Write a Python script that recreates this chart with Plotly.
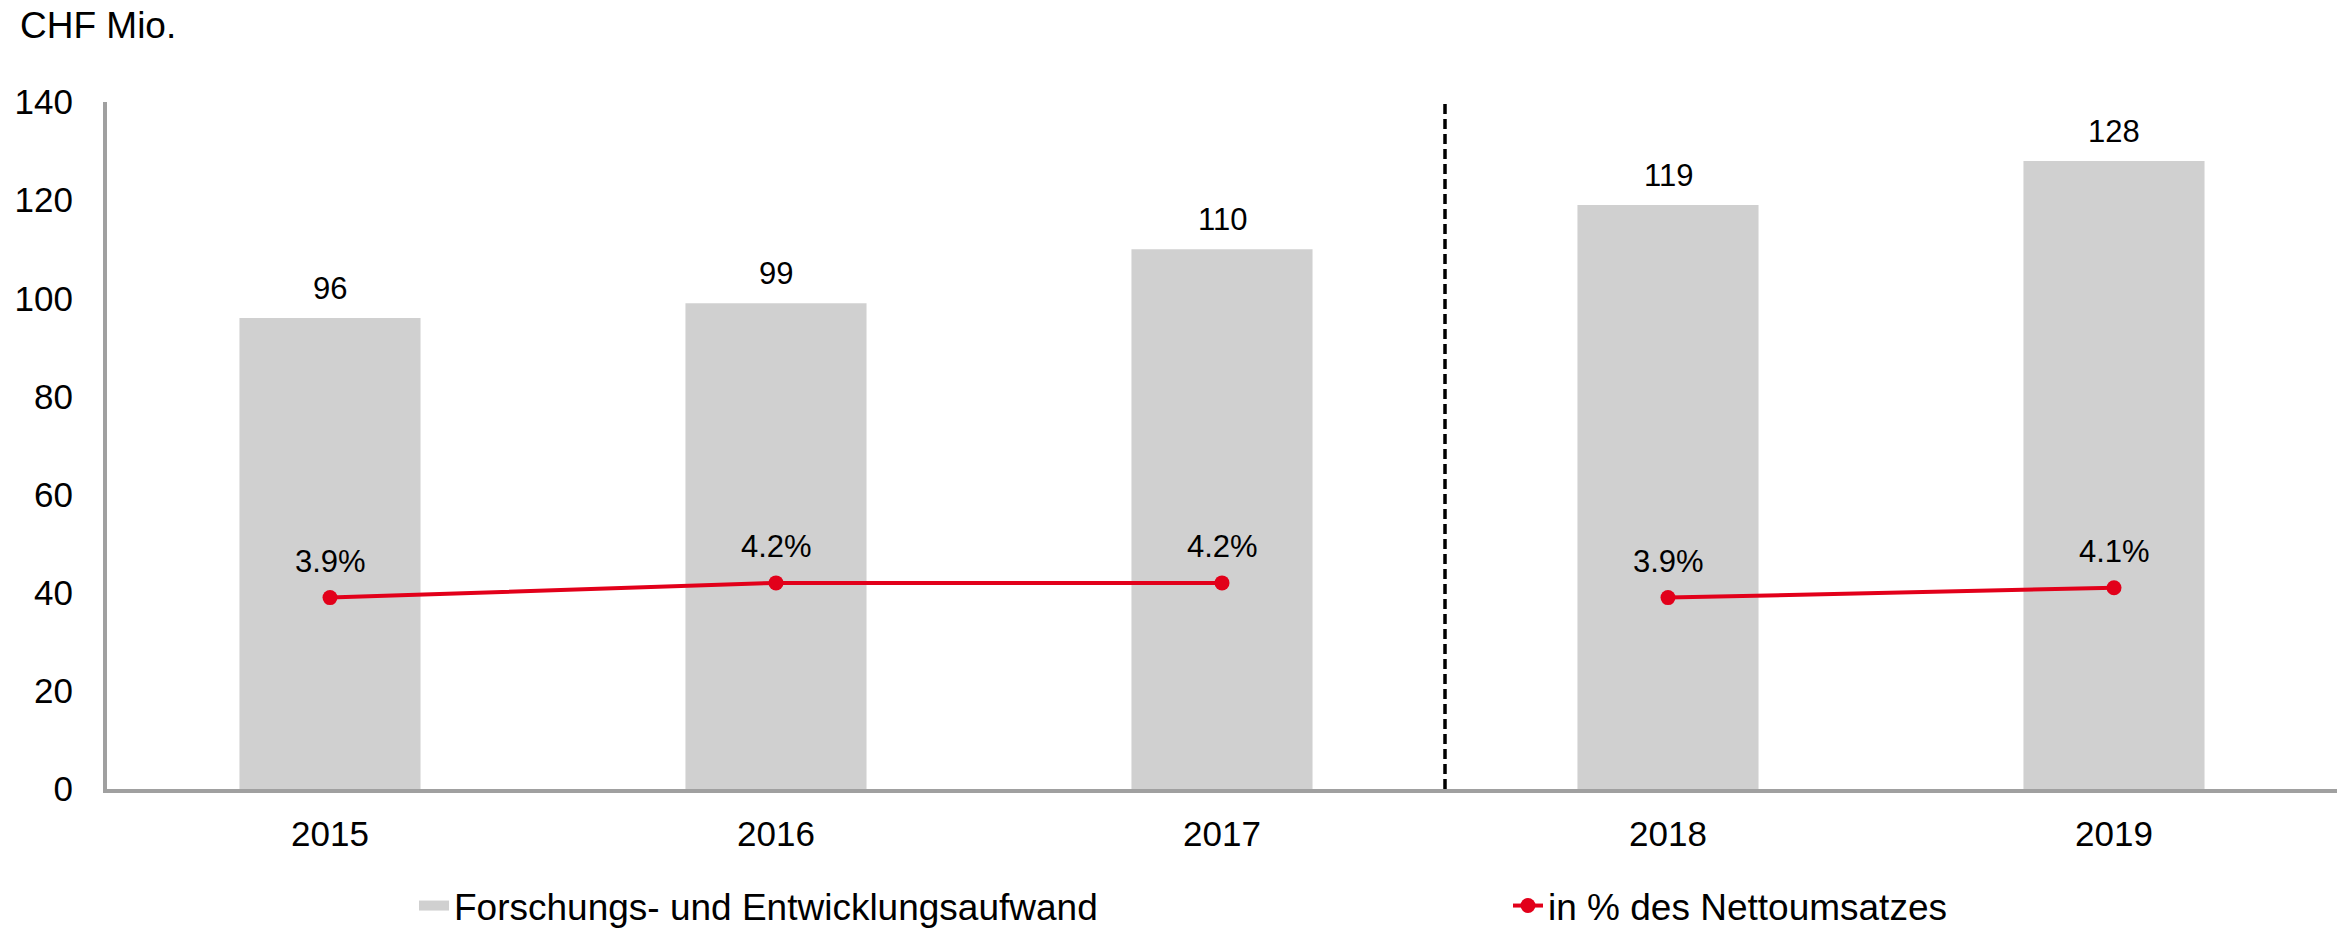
import plotly.graph_objects as go

years = ["2015", "2016", "2017", "2018", "2019"]
rd_expense = [96, 99, 110, 119, 128]
pct_sales = [3.9, 4.2, 4.2, 3.9, 4.1]
bar_name = "Forschungs- und Entwicklungsaufwand"
line_name = "in % des Nettoumsatzes"
y_ticks = [0, 20, 40, 60, 80, 100, 120, 140]

FONT = "Liberation Sans, Arial, sans-serif"
RED = "#E2001A"
GREY_BAR = "#D0D0D0"
AXIS = "#A0A0A0"

OFF = 8  # page body margin
W, H = 2351 - OFF, 928 - OFF
L = 107 - OFF
T = 102 - OFF
R = W - (2337 - OFF)
B = H - (789 - OFF)
PW, PH = W - L - R, H - T - B

pos = list(range(len(years)))

fig = go.Figure()
fig.add_trace(go.Bar(
    x=pos, y=rd_expense, name=bar_name, marker=dict(color=GREY_BAR, line=dict(width=0)),
    width=0.406, showlegend=False,
))
# legend entry for bars (wide grey patch like the reference)
fig.add_trace(go.Scatter(
    x=[None], y=[None], name=bar_name, mode="lines",
    line=dict(color=GREY_BAR, width=16), legend="legend",
))
# line broken between 2017 and 2018 (two segments)
seg1 = slice(0, 3)
seg2 = slice(3, 5)
fig.add_trace(go.Scatter(
    x=pos[seg1], y=pct_sales[seg1], name=line_name, mode="lines+markers",
    line=dict(color=RED, width=4), marker=dict(color=RED, size=15), yaxis="y2",
    legendgroup="pct", legend="legend2",
))
fig.add_trace(go.Scatter(
    x=pos[seg2], y=pct_sales[seg2], name=line_name, mode="lines+markers",
    line=dict(color=RED, width=4), marker=dict(color=RED, size=15), yaxis="y2",
    legendgroup="pct", showlegend=False, legend="legend2",
))

annotations = []
for xp, v in zip(pos, rd_expense):
    annotations.append(dict(x=xp, y=v, xref="x", yref="y", text=str(v), showarrow=False,
                            yanchor="bottom", yshift=10, font=dict(size=31, color="black", family=FONT)))
for xp, p in zip(pos, pct_sales):
    annotations.append(dict(x=xp, y=p, xref="x", yref="y2", text=f"{p:.1f}%", showarrow=False,
                            yanchor="bottom", yshift=17, font=dict(size=31, color="black", family=FONT)))
annotations.append(dict(x=(18 - OFF - L) / PW, xanchor="left", y=1 + (T - (25 - OFF)) / PH,
                        yanchor="middle", xref="paper", yref="paper", text="CHF Mio.", showarrow=False,
                        font=dict(size=37, color="black", family=FONT)))

legend_y = -((906 - OFF) - (T + PH)) / PH
fig.update_layout(
    width=W, height=H,
    margin=dict(l=L, r=R, t=T, b=B, autoexpand=False),
    paper_bgcolor="white", plot_bgcolor="white",
    font=dict(family=FONT, size=35, color="black"),
    xaxis=dict(range=[-0.5, len(years) - 0.5], tickvals=pos, ticktext=years, showgrid=False,
               showline=True, linecolor=AXIS, linewidth=4, ticks="", ticklabelstandoff=11,
               tickfont=dict(size=35), zeroline=False, automargin=False),
    yaxis=dict(range=[0, 140], tickvals=y_ticks, showgrid=False, showline=True, linecolor=AXIS,
               linewidth=4, ticks="", ticklabelstandoff=23, tickfont=dict(size=35), zeroline=False,
               automargin=False),
    yaxis2=dict(range=[0, 14], overlaying="y", visible=False),
    showlegend=True,
    legend=dict(orientation="h", x=(414 - OFF - L) / PW, xanchor="left", y=legend_y, yanchor="middle",
                font=dict(size=37), bgcolor="rgba(0,0,0,0)"),
    legend2=dict(orientation="h", x=(1508 - OFF - L) / PW, xanchor="left", y=legend_y, yanchor="middle",
                 font=dict(size=37), bgcolor="rgba(0,0,0,0)"),
    annotations=annotations,
    shapes=[dict(type="line", xref="x", yref="paper", x0=2.5, x1=2.5, y0=0, y1=1,
                 line=dict(color="black", width=3.5, dash="10px,5px"))],
)

fig.write_html("out.html")
